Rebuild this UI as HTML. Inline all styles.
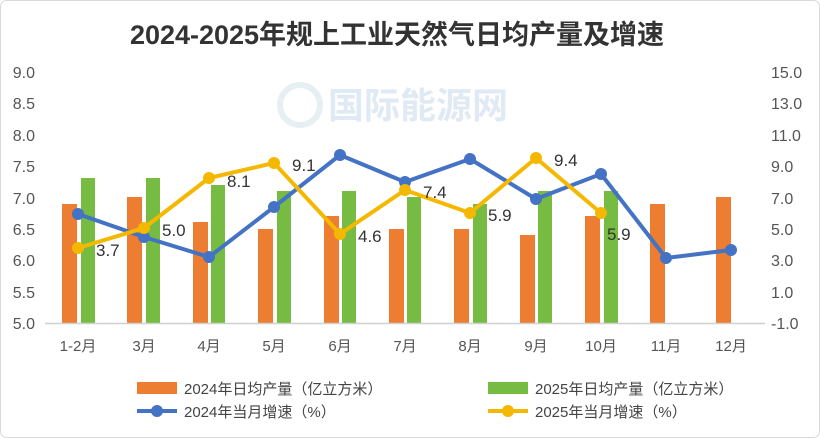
<!DOCTYPE html>
<html><head><meta charset="utf-8"><style>
html,body{margin:0;padding:0;background:#fff;}
svg{display:block;font-family:"Liberation Sans","Noto Sans CJK SC",sans-serif;}
</style></head><body>
<svg width="820" height="438" viewBox="0 0 820 438">
<rect x="0.5" y="0.5" width="819" height="437" rx="6" fill="#fff" stroke="#d9d9d9"/>
<text x="397" y="44" text-anchor="middle" font-size="27" font-weight="bold" fill="#333">2024-2025年规上工业天然气日均产量及增速</text>
<g opacity="0.18">
<circle cx="300" cy="105" r="20" fill="none" stroke="#7ab" stroke-width="6"/>
<text x="328" y="118" font-size="36" font-weight="bold" fill="#5b8fc7">国际能源网</text>
</g>
<g font-size="16" fill="#555" text-anchor="end">
<text x="35" y="78">9.0</text><text x="35" y="109">8.5</text><text x="35" y="141">8.0</text><text x="35" y="172">7.5</text><text x="35" y="204">7.0</text><text x="35" y="235">6.5</text><text x="35" y="266">6.0</text><text x="35" y="298">5.5</text><text x="35" y="329">5.0</text>
</g>
<g font-size="16" fill="#555" text-anchor="start">
<text x="771" y="78">15.0</text><text x="771" y="109">13.0</text><text x="771" y="141">11.0</text><text x="771" y="172">9.0</text><text x="771" y="204">7.0</text><text x="771" y="235">5.0</text><text x="771" y="266">3.0</text><text x="771" y="298">1.0</text><text x="771" y="329">-1.0</text>
</g>
<g fill="#ed7d31">
<rect x="62" y="204" width="15" height="119"/><rect x="127" y="197" width="15" height="126"/><rect x="193" y="222" width="15" height="101"/><rect x="258" y="229" width="15" height="94"/><rect x="324" y="216" width="15" height="107"/><rect x="389" y="229" width="15" height="94"/><rect x="454" y="229" width="15" height="94"/><rect x="520" y="235" width="15" height="88"/><rect x="585" y="216" width="15" height="107"/><rect x="650" y="204" width="15" height="119"/><rect x="716" y="197" width="15" height="126"/>
</g>
<g fill="#76bc42">
<rect x="81" y="178" width="14" height="145"/><rect x="146" y="178" width="14" height="145"/><rect x="211" y="185" width="14" height="138"/><rect x="277" y="191" width="14" height="132"/><rect x="342" y="191" width="14" height="132"/><rect x="407" y="197" width="14" height="126"/><rect x="473" y="204" width="14" height="119"/><rect x="538" y="191" width="14" height="132"/><rect x="604" y="191" width="14" height="132"/>
</g>
<line x1="45" y1="323.5" x2="765" y2="323.5" stroke="#d0d0d0" stroke-width="1.5"/>
<polyline fill="none" stroke="#4472c4" stroke-width="4" stroke-linejoin="round" points="78,214 144,237 209,257 274,207 340,155 405,182 470,159 536,199 601,174 666,258 731,250"/>
<g fill="#4472c4"><circle cx="78" cy="214" r="6"/><circle cx="144" cy="237" r="6"/><circle cx="209" cy="257" r="6"/><circle cx="274" cy="207" r="6"/><circle cx="340" cy="155" r="6"/><circle cx="405" cy="182" r="6"/><circle cx="470" cy="159" r="6"/><circle cx="536" cy="199" r="6"/><circle cx="601" cy="174" r="6"/><circle cx="666" cy="258" r="6"/><circle cx="731" cy="250" r="6"/></g>
<polyline fill="none" stroke="#f5b800" stroke-width="4" stroke-linejoin="round" points="78,248 144,228 209,178 274,163 340,234 405,190 470,213 536,158 601,213"/>
<g fill="#f5b800"><circle cx="78" cy="248" r="6"/><circle cx="144" cy="228" r="6"/><circle cx="209" cy="178" r="6"/><circle cx="274" cy="163" r="6"/><circle cx="340" cy="234" r="6"/><circle cx="405" cy="190" r="6"/><circle cx="470" cy="213" r="6"/><circle cx="536" cy="158" r="6"/><circle cx="601" cy="213" r="6"/></g>
<g font-size="17" fill="#333">
<text x="96" y="256">3.7</text><text x="162" y="236">5.0</text><text x="227" y="187">8.1</text><text x="292" y="171">9.1</text><text x="358" y="242">4.6</text><text x="423" y="198">7.4</text><text x="488" y="221">5.9</text><text x="554" y="166">9.4</text><text x="607" y="240">5.9</text>
</g>
<g font-size="15" fill="#555" text-anchor="middle">
<text x="78" y="351">1-2月</text><text x="144" y="351">3月</text><text x="209" y="351">4月</text><text x="274" y="351">5月</text><text x="340" y="351">6月</text><text x="405" y="351">7月</text><text x="470" y="351">8月</text><text x="536" y="351">9月</text><text x="601" y="351">10月</text><text x="666" y="351">11月</text><text x="731" y="351">12月</text>
</g>
<g font-size="15" fill="#444">
<rect x="137" y="382" width="40" height="12" fill="#ed7d31"/><text x="184" y="394">2024年日均产量（亿立方米）</text>
<rect x="488" y="382" width="40" height="12" fill="#76bc42"/><text x="535" y="394">2025年日均产量（亿立方米）</text>
<line x1="137" y1="411" x2="177" y2="411" stroke="#4472c4" stroke-width="4"/><circle cx="157" cy="411" r="6" fill="#4472c4"/><text x="184" y="417">2024年当月增速（%）</text>
<line x1="488" y1="411" x2="528" y2="411" stroke="#f5b800" stroke-width="4"/><circle cx="508" cy="411" r="6" fill="#f5b800"/><text x="535" y="417">2025年当月增速（%）</text>
</g>
</svg>
</body></html>
